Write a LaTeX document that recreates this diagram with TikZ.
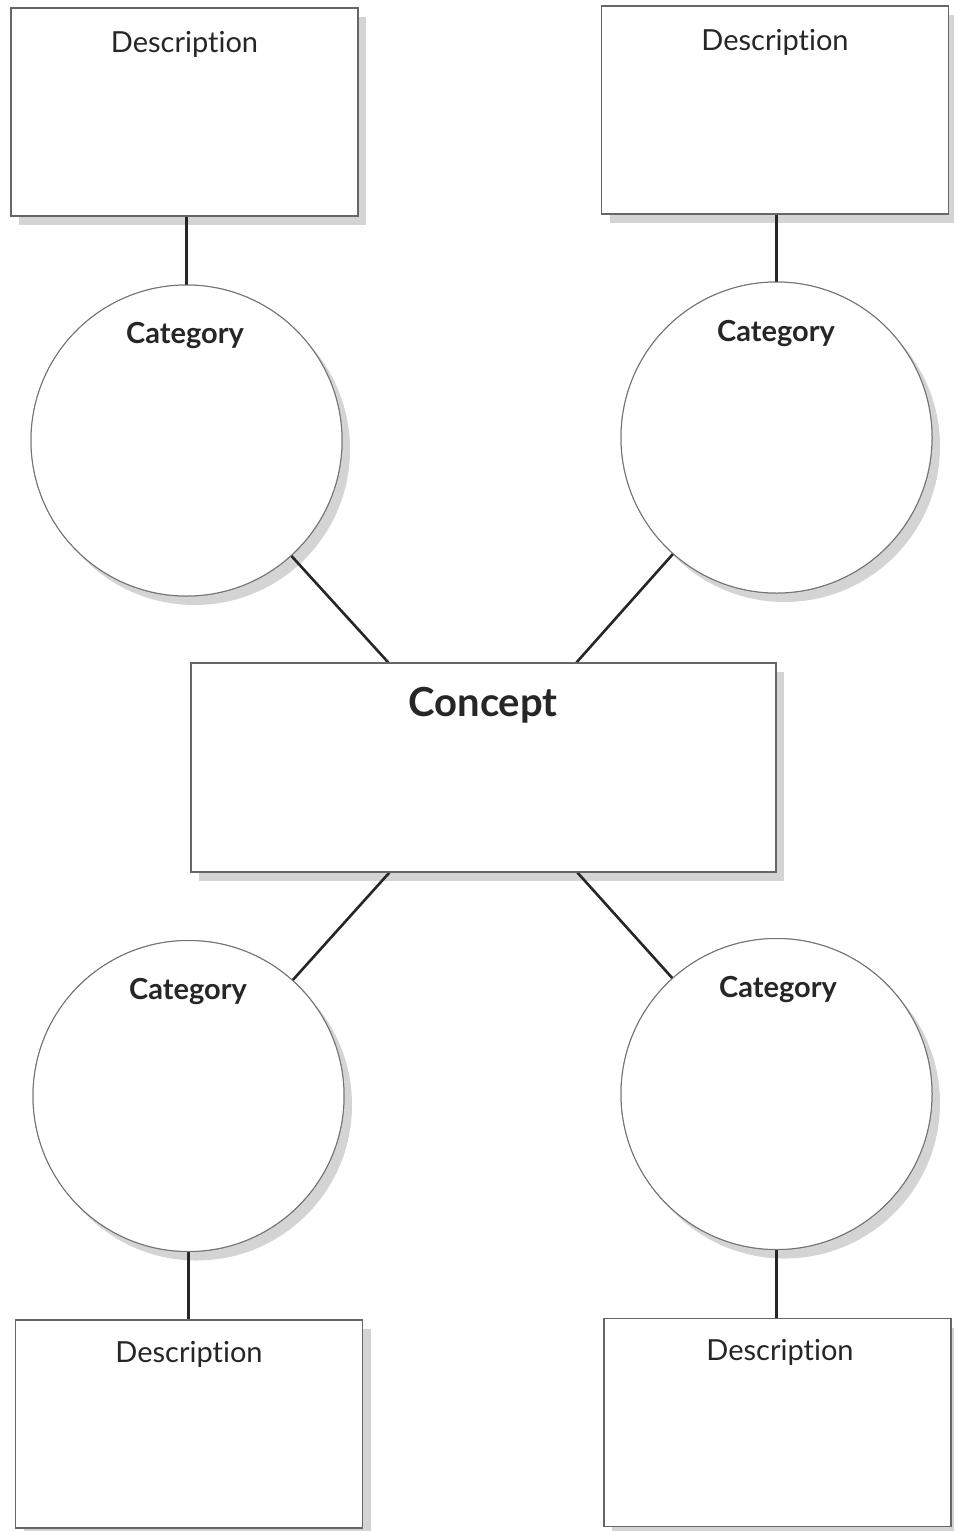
\documentclass[tikz,border=0pt]{standalone}
\usepackage{fontspec}
\setmainfont[Ligatures={NoCommon}]{Lato}
\usetikzlibrary{shadows}
\begin{document}
\begin{tikzpicture}[x=1pt,y=-1pt,
  shad/.style={drop shadow={shadow xshift=8pt,shadow yshift=-9pt,fill=black!17,opacity=1}},
  descbox/.style={draw=black!60,line width=1.1pt,fill=white,rectangle,minimum width=347pt,minimum height=208pt,inner sep=0pt},
  conbox/.style={descbox,minimum width=585pt,minimum height=209pt},
  catcirc/.style={draw=black!55,line width=1pt,fill=white,circle,minimum size=311pt,inner sep=0pt},
  conn/.style={draw=black!85,line width=2.6pt},
  desctxt/.style={anchor=base,font=\fontsize{29}{32}\selectfont,text=black!85,inner sep=0pt},
  cattxt/.style={anchor=base,font=\fontsize{29}{32}\selectfont\bfseries,text=black!85,inner sep=0pt},
  contxt/.style={anchor=base,font=\fontsize{40}{44}\selectfont\bfseries,text=black!85,inner sep=0pt}]
\useasboundingbox[fill=white] (0,0) rectangle (953,1531);
% shadows (first pass)
\node[descbox,shad] (dtl) at (184.5,112) {};
\node[descbox,shad] (dtr) at (775,110) {};
\node[descbox,shad] (dbl) at (189,1424) {};
\node[descbox,shad] (dbr) at (777.5,1422.5) {};
\node[conbox,shad] (concept) at (483.5,767.5) {};
\node[catcirc,shad] (ctl) at (186.5,440.5) {};
\node[catcirc,shad] (ctr) at (776.5,437.5) {};
\node[catcirc,shad] (cbl) at (188.5,1096) {};
\node[catcirc,shad] (cbr) at (776.5,1094) {};
% connectors
\draw[conn] (ctl.north) -- (ctl.north |- dtl.south);
\draw[conn] (ctr.north) -- (ctr.north |- dtr.south);
\draw[conn] (cbl.south) -- (cbl.south |- dbl.north);
\draw[conn] (cbr.south) -- (cbr.south |- dbr.north);
\draw[conn] (ctl) -- (concept);
\draw[conn] (ctr) -- (concept);
\draw[conn] (cbl) -- (concept);
\draw[conn] (cbr) -- (concept);
% shapes over connector ends
\node[descbox] at (dtl) {};
\node[descbox] at (dtr) {};
\node[descbox] at (dbl) {};
\node[descbox] at (dbr) {};
\node[conbox] at (concept) {};
\node[catcirc] at (ctl) {};
\node[catcirc] at (ctr) {};
\node[catcirc] at (cbl) {};
\node[catcirc] at (cbr) {};
% texts
\node[desctxt] (tdtl) at (184.5,52) {Description};
\node[desctxt] (tdtr) at (775,50) {Description};
\node[desctxt] (tdbl) at (189,1362) {Description};
\node[desctxt] (tdbr) at (780,1360) {Description};
\node[cattxt] (tctl) at (185,343) {Category};
\node[cattxt] (tctr) at (776,341) {Category};
\node[cattxt] (tcbl) at (188,999) {Category};
\node[cattxt] (tcbr) at (778,997) {Category};
\node[contxt] (tcon) at (483,716) {Concept};
\end{tikzpicture}
\end{document}
